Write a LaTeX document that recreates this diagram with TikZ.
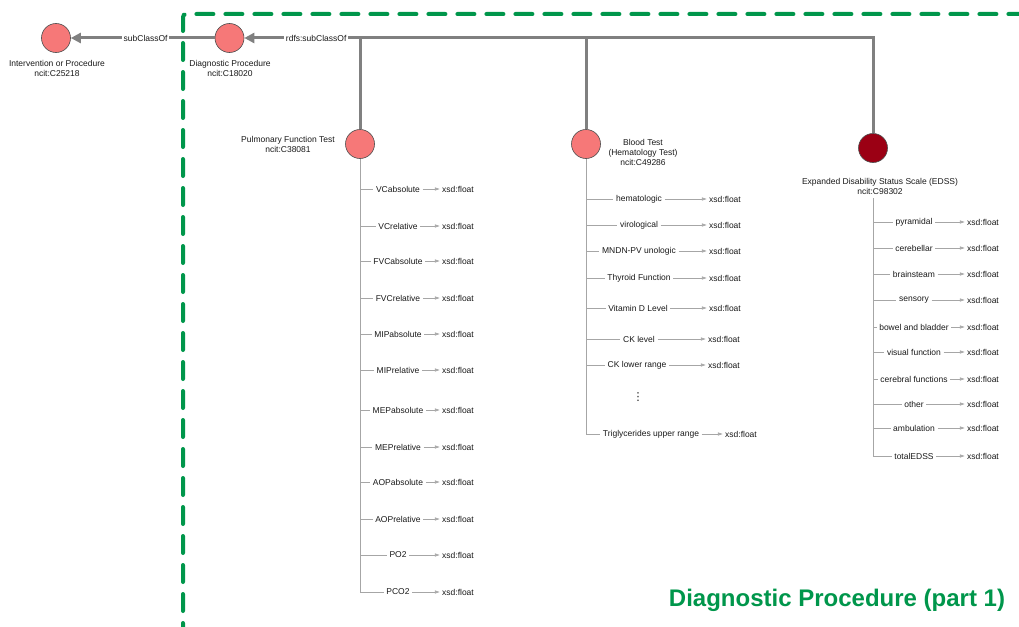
\documentclass[tikz,border=0pt]{standalone}
\usepackage{fontspec}
\setmainfont{Liberation Sans}
\newfontfamily\symfont{DejaVu Sans}
\usetikzlibrary{arrows.meta}
\definecolor{clsred}{RGB}{246,120,120}
\definecolor{clsdark}{RGB}{155,0,20}
\definecolor{areagreen}{RGB}{0,150,75}
\begin{document}
\begin{tikzpicture}[x=1pt,y=-1pt,
  cls/.style={circle,draw=black!70,line width=0.6pt,fill=clsred,minimum size=29pt,inner sep=0pt},
  lbl/.style={font=\fontsize{8.5}{10}\selectfont,align=center,text=black!90},
  prop/.style={font=\fontsize{8.5}{10}\selectfont,text=black!90,inner sep=2.5pt},
  dtype/.style={font=\fontsize{8.5}{10}\selectfont,text=black!90,inner sep=2pt},
  thin/.style={draw=black!35,line width=0.6pt},
  thinarrow/.style={thin,-{Latex[length=5pt,width=3.5pt]}},
  bigline/.style={draw=black!50,line width=3pt},
  bigarrow/.style={bigline,-{Triangle[length=10pt,width=10pt]}},
  arealine/.style={draw=areagreen,line width=4pt,line cap=round,dash pattern=on 17pt off 12pt,rounded corners=3pt}
]
\useasboundingbox (0,0) rectangle (1019,626);

% area frame
\draw[arealine] (183,640) -- (183,14) -- (1030,14);
\node[font=\bfseries\fontsize{24}{28}\selectfont,text=areagreen] (title) at (837,600) {Diagnostic Procedure (part 1)};

% class nodes
\node[cls] (interv) at (56,38) {};
\node[lbl] (intervlbl) at (57,68) {Intervention or Procedure\\ncit:C25218};
\node[cls] (diag) at (229.5,38) {};
\node[lbl] (diaglbl) at (230,68) {Diagnostic Procedure\\ncit:C18020};
\node[cls] (pft) at (360,144) {};
\node[lbl] (pftlbl) at (288,144.5) {Pulmonary Function Test\\ncit:C38081};
\node[cls] (blood) at (586,144) {};
\node[lbl] (bloodlbl) at (643,152) {Blood Test\\(Hematology Test)\\ncit:C49286};
\node[cls,fill=clsdark] (edss) at (873,148) {};
\node[lbl] (edsslbl) at (880,186.5) {Expanded Disability Status Scale (EDSS)\\ncit:C98302};

% subclass relations
\draw[bigarrow] (diag.west) -- node[pos=0.48,lbl,fill=white,inner sep=1.5pt] {subClassOf} (interv.east);
\coordinate (busL) at (350,38);
\draw[bigline] (busL) -- (busL -| edss) -- (edss.north);
\draw[bigline] (busL -| pft) -- (pft.north);
\draw[bigline] (busL -| blood) -- (blood.north);
\draw[bigarrow] (busL) -- node[pos=0.32,lbl,fill=white,inner sep=1.5pt] {rdfs:subClassOf} (diag.east);

% pulmonary function test properties
\foreach \t/\y [count=\i] in {VCabsolute/189,VCrelative/226,FVCabsolute/261,FVCrelative/298,
  MIPabsolute/334,MIPrelative/370,MEPabsolute/410,MEPrelative/447,AOPabsolute/482,
  AOPrelative/519,PO2/555,PCO2/592}{
  \node[prop] (pf\i) at (398,\y) {\t};
  \node[dtype] (pfx\i) at (458,\y) {xsd:float};
  \draw[thin] (pft.south |- pf\i.west) -- (pf\i.west);
  \draw[thinarrow] (pf\i.east) -- (pfx\i.west);
}
\draw[thin] (pft.south) -- (pft.south |- pf12.west);

% blood test properties
\foreach \t/\x/\xx/\y [count=\i] in {hematologic/639/725/199,virological/639/725/225,
  MNDN-PV unologic/639/725/251,Thyroid Function/639/725/278,Vitamin D Level/638/725/308,
  CK level/639/724/339,CK lower range/637/724/365,Triglycerides upper range/651/741/434}{
  \node[prop] (bt\i) at (\x,\y) {\t};
  \node[dtype] (btx\i) at (\xx,\y) {xsd:float};
  \draw[thin] (blood.south |- bt\i.west) -- (bt\i.west);
  \draw[thinarrow] (bt\i.east) -- (btx\i.west);
}
\draw[thin] (blood.south) -- (blood.south |- bt8.west);
\node[prop,font=\symfont\fontsize{11}{12}\selectfont] (btdots) at (638,397) {⋮};

% EDSS properties
\foreach \t/\y [count=\i] in {pyramidal/222,cerebellar/248,brainsteam/274,sensory/300,
  bowel and bladder/327,visual function/352,cerebral functions/379,other/404,
  ambulation/428,totalEDSS/456}{
  \node[prop] (ed\i) at (914,\y) {\t};
  \node[dtype] (edx\i) at (983,\y) {xsd:float};
  \draw[thin] (edss.south |- ed\i.west) -- (ed\i.west);
  \draw[thinarrow] (ed\i.east) -- (edx\i.west);
}
\draw[thin] (edss.center |- edsslbl.south) -- (edss.center |- ed10.west);
\end{tikzpicture}
\end{document}
